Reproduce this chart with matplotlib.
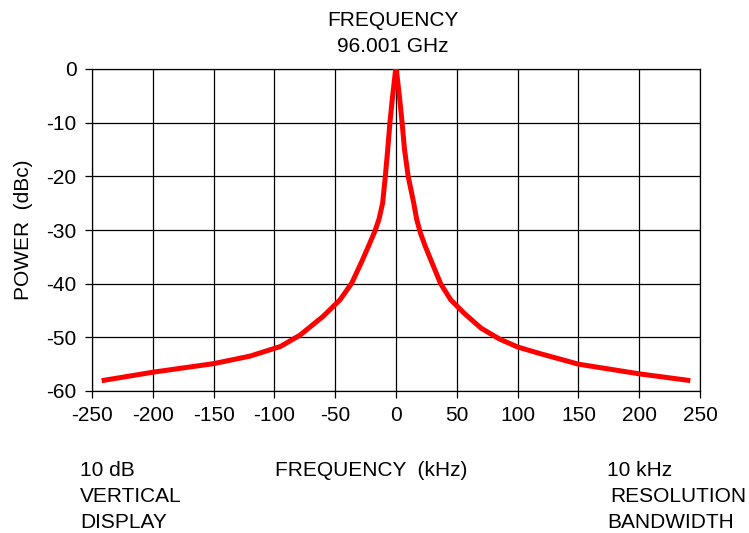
import matplotlib
matplotlib.use("Agg")
from matplotlib import pyplot as plt
import numpy as np

plt.rcParams['font.family'] = ['Liberation Sans', 'DejaVu Sans']
plt.rcParams['axes.unicode_minus'] = False

# offset from carrier (kHz) and power (dBc)
freq_khz = [-240, -200, -150, -120, -95, -79, -60, -46, -36.4, -28.2, -22.8, -17.5, -14, -11, -9, -7, -5, -3, -2, -1, -0.5, 0,
            0.5, 1, 2, 3, 5, 7, 10, 14.6, 17, 20, 24, 28.5, 36.7, 45, 56, 70, 85, 100, 118, 150, 200, 240]
power_dbc = [-58, -56.5, -54.9, -53.5, -51.7, -49.6, -46.1, -43, -39.9, -35.9, -33.1, -30.3, -28, -25, -20.5, -15.5, -10, -5.5, -3.5, -1.5, -0.5, 0,
             -0.5, -1.5, -3.5, -5.5, -10, -15, -20, -25, -28, -30.5, -33, -35.5, -40, -43, -45.5, -48.3, -50.3, -51.8, -53, -55, -56.8, -58]

x_ticks = [-250, -200, -150, -100, -50, 0, 50, 100, 150, 200, 250]
y_ticks = [0, -10, -20, -30, -40, -50, -60]

fig = plt.figure(figsize=(7.49, 5.33), dpi=100)
ax = fig.add_axes([92/749, 1-391/533, 608/749, 322/533])

ax.plot(freq_khz, power_dbc, color='#ff0000', lw=3.6, solid_joinstyle='round', zorder=3)

ax.set_xlim(-250, 250)
ax.set_ylim(-60, 0)
ax.set_xticks(x_ticks)
ax.set_yticks(y_ticks)
ax.grid(True, color='black', lw=0.9)
for s in ax.spines.values():
    s.set_color('black')
    s.set_linewidth(0.9)
ax.tick_params(direction='out', length=5, width=0.9, labelsize=15, pad=6)

ax.set_ylabel("POWER  (dBc)", fontsize=15, labelpad=10)

fig.text(393/749, 1-20/533, "FREQUENCY", ha='center', va='center', fontsize=15)
fig.text(393/749, 1-47/533, "96.001 GHz", ha='center', va='center', fontsize=15)

fig.text(80/749, 1-470/533, "10 dB", ha='left', va='center', fontsize=15)
fig.text(80/749, 1-497/533, "VERTICAL", ha='left', va='center', fontsize=15)
fig.text(80/749, 1-523/533, "DISPLAY", ha='left', va='center', fontsize=15)
fig.text(275/749, 1-470/533, "FREQUENCY  (kHz)", ha='left', va='center', fontsize=15)
fig.text(607/749, 1-470/533, "10 kHz", ha='left', va='center', fontsize=15)
fig.text(610/749, 1-497/533, "RESOLUTION", ha='left', va='center', fontsize=15)
fig.text(607/749, 1-523/533, "BANDWIDTH", ha='left', va='center', fontsize=15)

plt.savefig('out.png', dpi=100)
